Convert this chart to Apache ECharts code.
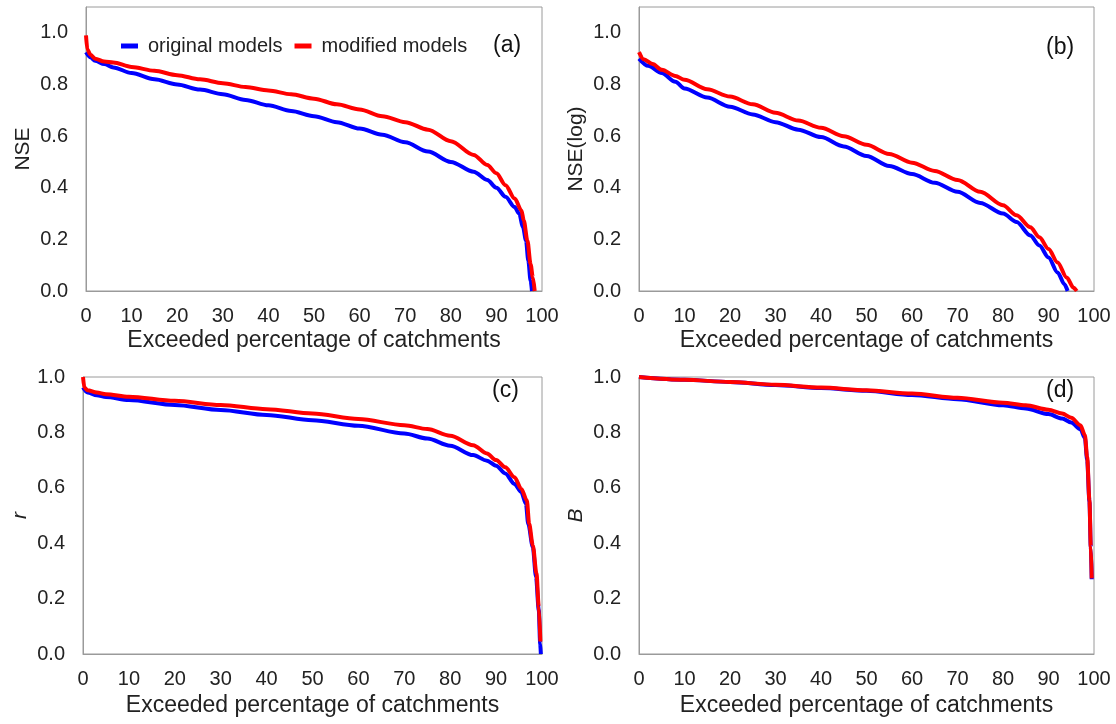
<!DOCTYPE html>
<html>
<head>
<meta charset="utf-8">
<script src="https://cdn.jsdelivr.net/npm/echarts@6/dist/echarts.min.js"></script>
<style>html,body{margin:0;padding:0;background:#fff;}#c{width:1116px;height:724px;}</style>
</head>
<body>
<div id="c"></div>
<script>
// ---- data ----
var seriesNames = ['original models', 'modified models'];
var xTicks = [0, 10, 20, 30, 40, 50, 60, 70, 80, 90, 100];
var yTicks = [0.0, 0.2, 0.4, 0.6, 0.8, 1.0];
var yNames = ['NSE', 'NSE(log)', 'r', 'B'];
var panelLabels = ['(a)', '(b)', '(c)', '(d)'];

// (a) NSE
var aOrigX = [0, 1, 2, 4, 6, 10, 15, 20, 25, 30, 35, 40, 45, 50, 55, 60, 65, 70, 75, 80, 85, 88, 90, 92, 94, 95, 95.8, 96.5, 97, 97.5, 97.8];
var aOrigY = [0.925, 0.905, 0.892, 0.879, 0.866, 0.844, 0.82, 0.80, 0.78, 0.762, 0.74, 0.719, 0.697, 0.677, 0.654, 0.629, 0.605, 0.576, 0.54, 0.50, 0.462, 0.43, 0.40, 0.365, 0.325, 0.30, 0.25, 0.195, 0.117, 0.04, 0.0];
var aModX = [0, 0.3, 1, 2, 4, 6, 10, 15, 20, 25, 30, 35, 40, 45, 50, 55, 60, 65, 70, 75, 80, 85, 88, 90, 92, 94, 95.5, 96, 96.8, 97.5, 98, 98.4];
var aModY = [0.99, 0.935, 0.915, 0.90, 0.889, 0.885, 0.868, 0.853, 0.836, 0.82, 0.805, 0.79, 0.777, 0.762, 0.745, 0.723, 0.703, 0.677, 0.654, 0.625, 0.58, 0.527, 0.488, 0.456, 0.41, 0.358, 0.312, 0.273, 0.195, 0.104, 0.052, 0.0];

// (b) NSE(log)
var bOrigX = [0, 2, 5, 8, 10, 15, 20, 25, 30, 35, 40, 45, 50, 55, 60, 65, 70, 75, 80, 83, 86, 88, 90, 92, 93.5, 94.2];
var bOrigY = [0.90, 0.872, 0.844, 0.81, 0.784, 0.749, 0.714, 0.684, 0.654, 0.625, 0.596, 0.56, 0.523, 0.484, 0.453, 0.419, 0.384, 0.341, 0.30, 0.267, 0.215, 0.176, 0.13, 0.072, 0.026, 0.0];
var bModX = [0, 1, 3, 5, 8, 10, 15, 20, 25, 30, 35, 40, 45, 50, 55, 60, 65, 70, 75, 80, 83, 86, 88, 90, 92, 94, 95.5, 96.2];
var bModY = [0.925, 0.898, 0.879, 0.857, 0.833, 0.818, 0.781, 0.753, 0.723, 0.69, 0.66, 0.632, 0.599, 0.566, 0.531, 0.497, 0.465, 0.43, 0.384, 0.332, 0.293, 0.247, 0.208, 0.163, 0.11, 0.052, 0.013, 0.0];

// (c) r
var cOrigX = [0, 1, 3, 5, 10, 20, 30, 40, 50, 60, 70, 75, 80, 85, 88, 90, 92, 94, 95.5, 96.5, 97, 98, 98.7, 99.3, 99.6, 99.75];
var cOrigY = [0.962, 0.944, 0.934, 0.928, 0.917, 0.899, 0.881, 0.863, 0.844, 0.824, 0.796, 0.778, 0.752, 0.718, 0.698, 0.68, 0.652, 0.614, 0.584, 0.542, 0.47, 0.386, 0.278, 0.158, 0.038, 0.0];
var cModX = [0, 0.3, 1, 3, 5, 10, 20, 30, 40, 50, 60, 70, 75, 80, 85, 88, 90, 92, 94, 95.5, 96.7, 97.2, 98, 98.8, 99.3, 99.65];
var cModY = [1.0, 0.962, 0.952, 0.944, 0.938, 0.929, 0.914, 0.899, 0.884, 0.868, 0.848, 0.826, 0.812, 0.788, 0.754, 0.724, 0.70, 0.674, 0.638, 0.596, 0.554, 0.47, 0.392, 0.29, 0.17, 0.045];

// (d) B
var dOrigX = [0, 10, 20, 30, 40, 50, 60, 70, 80, 85, 90, 93, 95, 97, 98, 98.5, 99, 99.3, 99.5];
var dOrigY = [1.0, 0.99, 0.982, 0.971, 0.96, 0.95, 0.935, 0.92, 0.898, 0.886, 0.866, 0.85, 0.836, 0.812, 0.78, 0.70, 0.55, 0.385, 0.27];
var dModX = [0, 10, 20, 30, 40, 50, 60, 70, 80, 85, 90, 93, 95, 97, 98, 98.5, 99, 99.3, 99.5];
var dModY = [1.0, 0.99, 0.982, 0.972, 0.962, 0.952, 0.94, 0.925, 0.907, 0.898, 0.882, 0.868, 0.853, 0.826, 0.79, 0.71, 0.555, 0.387, 0.273];

var panels = [
  {orig: [aOrigX, aOrigY], mod: [aModX, aModY], yMax: 1.1},
  {orig: [bOrigX, bOrigY], mod: [bModX, bModY], yMax: 1.1},
  {orig: [cOrigX, cOrigY], mod: [cModX, cModY], yMax: 1.0},
  {orig: [dOrigX, dOrigY], mod: [dModX, dModY], yMax: 1.0}
];

function zip(xs, ys) { return xs.map(function (x, i) { return [x, ys[i]]; }); }

var grids = [
  {left: 86, right: 574, top: 7, bottom: 433},
  {left: 639, right: 22, top: 7, bottom: 433},
  {left: 83, right: 574, top: 377, bottom: 70},
  {left: 639, right: 22, top: 377, bottom: 70}
];
var labelPos = [
  {x: 508, y: 47}, {x: 1061, y: 49}, {x: 507, y: 392}, {x: 1061, y: 392}
];
var font = 'Liberation Sans, Arial, sans-serif';
var gray = '#9a9a9a';
var colors = {orig: '#0000ff', mod: '#ff0000'};

var option = {
  animation: false,
  backgroundColor: '#fff',
  legend: {
    data: seriesNames,
    left: 116, top: 31,
    icon: 'rect', itemWidth: 17, itemHeight: 5, itemGap: 12,
    textStyle: {fontFamily: font, fontSize: 20, color: '#222', padding: [0, 0, 0, 5]}
  },
  grid: grids.map(function (g) {
    return Object.assign({show: true, borderColor: gray, borderWidth: 1, containLabel: false}, g);
  }),
  xAxis: grids.map(function (g, i) {
    return {
      type: 'value', gridIndex: i, min: xTicks[0], max: xTicks[xTicks.length - 1], interval: 10,
      name: 'Exceeded percentage of catchments', nameLocation: 'middle',
      nameGap: i < 2 ? 38 : 40,
      nameTextStyle: {fontFamily: font, fontSize: 23, color: '#222'},
      axisLine: {show: true, lineStyle: {color: gray}},
      axisTick: {show: false}, splitLine: {show: false},
      axisLabel: {fontFamily: font, fontSize: 20, color: '#222', margin: 15}
    };
  }),
  yAxis: grids.map(function (g, i) {
    return {
      type: 'value', gridIndex: i, min: yTicks[0], max: panels[i].yMax, interval: 0.2,
      name: yNames[i], nameLocation: 'middle', nameGap: 52,
      nameTextStyle: {fontFamily: font, fontSize: 21, color: '#222', fontStyle: i >= 2 ? 'italic' : 'normal'},
      axisLine: {show: true, lineStyle: {color: gray}},
      axisTick: {show: false}, splitLine: {show: false},
      axisLabel: {fontFamily: font, fontSize: 20, color: '#222', margin: 18, showMaxLabel: panels[i].yMax <= 1.0,
        formatter: function (v) { return v.toFixed(1); }}
    };
  }),
  graphic: panelLabels.map(function (t, i) {
    return {type: 'text', left: labelPos[i].x - 15, top: labelPos[i].y - 13,
      style: {text: t, fontFamily: font, fontSize: 23, fill: '#111'}};
  }),
  series: []
};

panels.forEach(function (p, i) {
  ['orig', 'mod'].forEach(function (k, j) {
    option.series.push({
      type: 'line', name: seriesNames[j], xAxisIndex: i, yAxisIndex: i,
      data: zip(p[k][0], p[k][1]),
      showSymbol: false, symbol: 'none', smooth: 0.3, smoothMonotone: 'x',
      lineStyle: {color: colors[k], width: 4}, itemStyle: {color: colors[k]},
      z: j + 2
    });
  });
});

var chart = echarts.init(document.getElementById('c'));
chart.setOption(option);
</script>
</body>
</html>
